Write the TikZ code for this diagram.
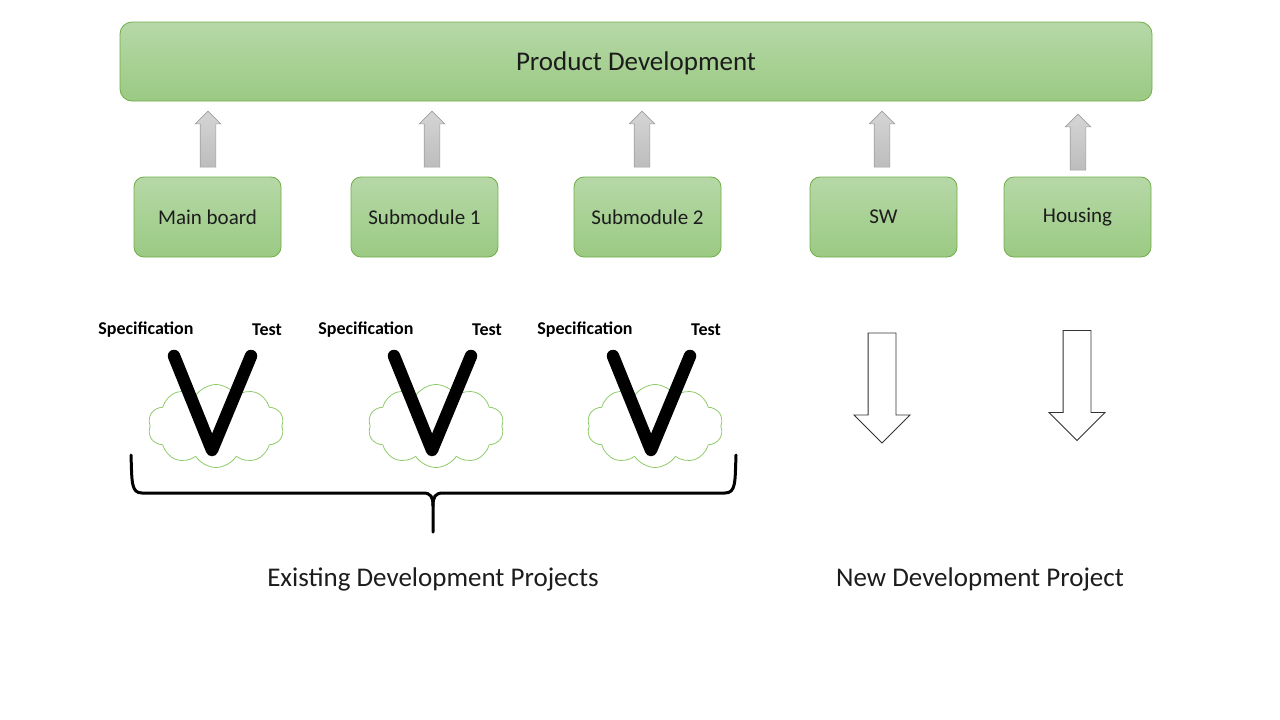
\documentclass[tikz,border=0pt]{standalone}
\usepackage{fontspec}
\setmainfont{Carlito}
\usetikzlibrary{shapes.arrows,shapes.symbols}
\definecolor{Leaf}{HTML}{70AD47}
\definecolor{LeafTop}{HTML}{B6D8A7}
\definecolor{LeafBot}{HTML}{9BCA83}
\definecolor{Puff}{HTML}{8FCB6A}
\definecolor{Ink}{HTML}{1C1C1C}
\definecolor{Stone}{HTML}{A0A0A0}

\begin{document}
\begin{tikzpicture}[x=1pt,y=-1pt,
    stage/.style={rounded corners=10pt,draw=Leaf,line width=0.8pt,top color=LeafTop,bottom color=LeafBot,
      minimum width=147pt,minimum height=80pt,inner sep=0pt,align=center,text=Ink,font=\fontsize{21}{24}\selectfont},
    lift/.style={single arrow,shape border rotate=90,draw=Stone,line width=0.6pt,top color=gray!33,bottom color=gray!52,
      minimum height=56pt,inner sep=7.5pt,single arrow head extend=5pt,single arrow tip angle=90},
    drop/.style={single arrow,shape border rotate=270,draw=black!80,line width=0.8pt,fill=white,
      minimum height=110pt,inner sep=13.5pt,single arrow head extend=14pt,single arrow tip angle=90},
    puff/.style={cloud,cloud puffs=10,cloud puff arc=115,aspect=1.6,draw=Puff,line width=0.8pt,fill=white,
      minimum width=136pt,minimum height=83pt,inner sep=0pt},
    vee/.style={line width=12.5pt,line cap=round,line join=round,black},
    tag/.style={font=\fontsize{18}{20}\selectfont\bfseries,text=black},
    caption/.style={font=\fontsize{27}{30}\selectfont,text=Ink}
  ]
    \useasboundingbox (0,0) rectangle (1280,720);
    % top level
    \node[stage,rounded corners=12pt,minimum width=1032pt,minimum height=79pt,text depth=0pt,font=\fontsize{27}{30}\selectfont] (prod) at (636,61.5) {Product Development};
    % sub parts
    \node[stage] (main) at (207.5,217) {Main board};
    \node[stage] (sub1) at (424.5,217) {Submodule 1};
    \node[stage] (sub2) at (647.5,217) {Submodule 2};
    \node[stage] (sw) at (883.5,217) {SW};
    \node[stage] (house) at (1077.5,217) {Housing};
    \foreach \n/\x in {main/208,sub1/432,sub2/642,sw/882}
      \node[lift] (up-\n) at (\x,143) {};
    \node[lift] (up-house) at (1078,146) {};
    % V models on clouds
    \foreach \c/\i in {212/1,432/2,651/3}{
      \node[puff] (cloud\i) at (\c+4,426) {};
      \draw[vee] (\c-38,356) -- (\c,450) -- (\c+39,356);
      \node[tag] (spec\i) at (\c-66,330) {Specification};
      \node[tag] (test\i) at (\c+55,330) {Test};
    }
    % new parts
    \node[drop] (dn-sw) at (882,381) {};
    \node[drop] (dn-house) at (1077,378.5) {};
    % brace
    \draw[line width=3pt,line cap=round] (131,455) .. controls (132,482) and (131,493) .. (142,493) -- (423,493)
      .. controls (431,493) and (433,497) .. (433,506) -- (433,532);
    \draw[line width=3pt,line cap=round] (736,455) .. controls (735,482) and (736,493) .. (725,493) -- (443,493)
      .. controls (435,493) and (433,497) .. (433,506);
    \node[caption] (old) at (433,579) {Existing Development Projects};
    \node[caption] (new) at (980,579) {New Development Project};
\end{tikzpicture}
\end{document}
